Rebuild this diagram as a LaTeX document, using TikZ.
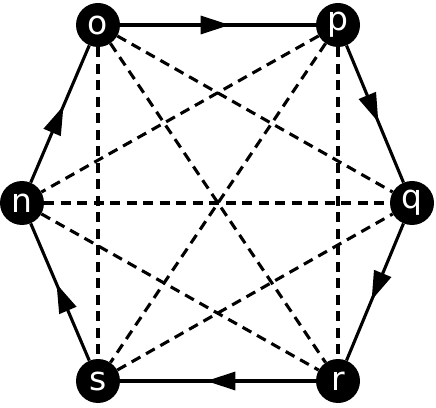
\documentclass[tikz,border=0pt]{standalone}
\usepackage{fontspec}
\setmainfont{DejaVu Sans}
\usetikzlibrary{arrows.meta,decorations.markings}
\begin{document}
\begin{tikzpicture}[x=1pt,y=1pt,
  vert/.style={circle,fill=black,text=white,inner sep=0pt,minimum size=44pt,font=\fontsize{33}{33}\selectfont},
  diag/.style={line width=3.1pt,dash pattern=on 10pt off 6.5pt},
  dir/.style={line width=3.1pt,postaction={decorate},decoration={markings,
    mark=at position 0.56 with {\arrow{Triangle[length=29pt,width=18pt]}}}}]
\useasboundingbox (0,0) rectangle (436,407);
\node[vert] (o) at (98,382) {o};
\node[vert] (p) at (338,382) {p};
\node[vert] (q) at (412,204) {q};
\node[vert] (r) at (338,26) {r};
\node[vert] (s) at (98,26) {s};
\node[vert] (n) at (22,204) {n};
\draw[diag] (o) -- (s);
\draw[diag] (p) -- (r);
\draw[diag] (n) -- (q);
\draw[diag] (o) -- (q);
\draw[diag] (o) -- (r);
\draw[diag] (p) -- (n);
\draw[diag] (p) -- (s);
\draw[diag] (n) -- (r);
\draw[diag] (s) -- (q);
\draw[dir] (o) -- (p);
\draw[dir] (p) -- (q);
\draw[dir] (q) -- (r);
\draw[dir] (r) -- (s);
\draw[dir] (s) -- (n);
\draw[dir] (n) -- (o);
\end{tikzpicture}
\end{document}
